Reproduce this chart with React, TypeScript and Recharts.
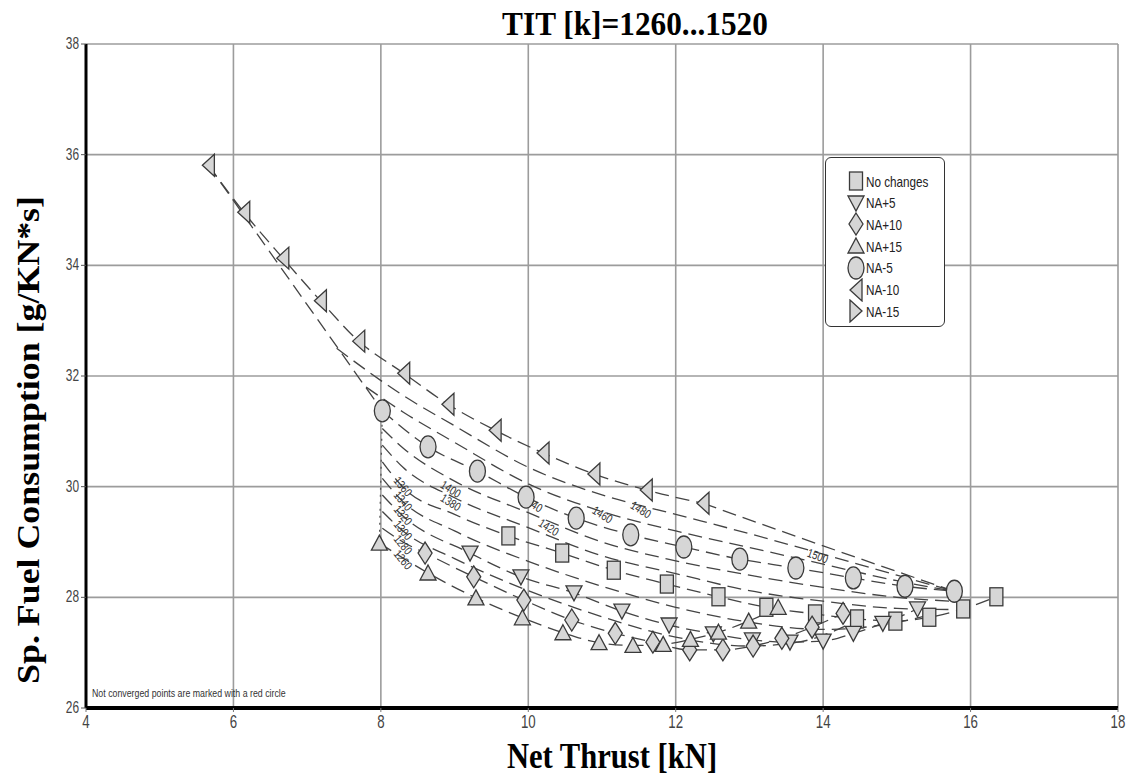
import React from 'react'
import { ScatterChart, Scatter, XAxis, YAxis, CartesianGrid } from 'recharts'

type Pt = [number, number]

const xTicks = [4, 6, 8, 10, 12, 14, 16, 18]
const yTicks = [26, 28, 30, 32, 34, 36, 38]

// markers: [thrust kN, SFC g/kN*s]
const naMinus10: Pt[] = [
  [5.66, 35.81], [6.14, 34.96], [6.67, 34.13], [7.18, 33.36], [7.70, 32.63], [8.31, 32.05],
  [8.91, 31.49], [9.55, 31.02], [10.20, 30.61], [10.89, 30.23], [11.60, 29.94], [12.37, 29.70],
]
const naMinus5: Pt[] = [
  [8.02, 31.37], [8.64, 30.72], [9.31, 30.28], [9.97, 29.81], [10.65, 29.43], [11.39, 29.13],
  [12.11, 28.91], [12.87, 28.69], [13.63, 28.53], [14.41, 28.35], [15.11, 28.20], [15.78, 28.11],
]
const noChanges: Pt[] = [
  [9.73, 29.11], [10.46, 28.80], [11.16, 28.49], [11.88, 28.24], [12.58, 28.01], [13.23, 27.82],
  [13.89, 27.70], [14.46, 27.61], [14.98, 27.57], [15.44, 27.64], [15.90, 27.79], [16.35, 28.01],
]
const naPlus5: Pt[] = [
  [9.21, 28.80], [9.90, 28.37], [10.62, 28.08], [11.27, 27.75], [11.91, 27.50], [12.51, 27.34],
  [13.04, 27.23], [13.55, 27.19], [14.00, 27.21], [14.41, 27.35], [14.81, 27.53], [15.28, 27.79],
]
const naPlus10: Pt[] = [
  [8.60, 28.80], [9.26, 28.37], [9.94, 27.95], [10.59, 27.59], [11.18, 27.35], [11.69, 27.19],
  [12.19, 27.05], [12.64, 27.05], [13.05, 27.12], [13.44, 27.26], [13.85, 27.46], [14.27, 27.71],
]
const naPlus15: Pt[] = [
  [7.98, 28.98], [8.64, 28.44], [9.29, 27.99], [9.92, 27.63], [10.47, 27.36], [10.96, 27.18],
  [11.42, 27.13], [11.83, 27.15], [12.20, 27.24], [12.58, 27.37], [12.99, 27.57], [13.39, 27.82],
]
const naMinus15: Pt[] = []

// dashed TIT curves (the ones without markers read point by point)
const boundaryLeft: Pt[] = [[5.66, 35.81], [8.02, 31.37]]
const boundaryMin: Pt[] = [[8.02, 31.37], [7.98, 28.98]]
const lineTop: Pt[] = [[12.37, 29.70], [14.0, 28.93], [15.78, 28.11]]
const lineB: Pt[] = [
  [7.4, 32.5], [8.3, 31.65], [9.0, 31.1], [10.0, 30.35], [11.0, 29.85], [12.0, 29.5],
  [13.0, 29.15], [14.0, 28.78], [15.0, 28.4], [15.78, 28.11],
]
const lineC: Pt[] = [
  [7.8, 31.8], [8.3, 31.35], [9.0, 30.8], [10.0, 30.05], [11.0, 29.55], [12.0, 29.2],
  [13.0, 28.9], [14.0, 28.6], [15.0, 28.3], [15.78, 28.11],
]
const lineE: Pt[] = [
  [8.02, 31.05], [8.3, 30.7], [9.0, 30.1], [10.0, 29.53], [11.0, 29.0], [12.0, 28.66],
  [13.0, 28.4], [14.0, 28.18], [15.0, 28.0], [15.9, 27.92],
]
const lineF: Pt[] = [
  [8.02, 30.75], [8.3, 30.35], [9.0, 29.8], [10.0, 29.26], [11.0, 28.75], [12.0, 28.43],
  [13.0, 28.12], [14.0, 27.93], [15.0, 27.8], [15.7, 27.78],
]
const lineH: Pt[] = [
  [8.02, 30.15], [8.3, 29.73], [9.0, 29.2], [10.0, 28.65], [11.0, 28.2], [12.0, 27.82],
  [13.0, 27.55], [14.0, 27.42], [14.8, 27.5], [15.5, 27.7],
]
const lineJ: Pt[] = [
  [8.02, 29.55], [8.3, 29.2], [9.0, 28.7], [10.0, 28.12], [11.0, 27.65], [12.0, 27.28],
  [13.0, 27.12], [13.7, 27.2], [14.3, 27.48],
]
const headNoChanges: Pt[] = [[8.02, 30.45], [8.3, 29.99], [9.0, 29.5]]
const headPlus5: Pt[] = [[8.02, 29.85], [8.3, 29.47]]
const headPlus10: Pt[] = [[8.02, 29.25], [8.3, 29.0]]

const curves: Pt[][] = [
  boundaryLeft, naMinus10, lineTop, lineB, lineC, naMinus5, lineE, lineF,
  [...headNoChanges, ...noChanges], lineH, [...headPlus5, ...naPlus5], lineJ,
  [...headPlus10, ...naPlus10], naPlus15,
]

const titLabels = [
  { x: 8.29, y: 29.99, text: '1360' }, { x: 8.29, y: 29.73, text: '1340' },
  { x: 8.29, y: 29.47, text: '1320' }, { x: 8.29, y: 29.2, text: '1300' },
  { x: 8.29, y: 28.94, text: '1280' }, { x: 8.29, y: 28.67, text: '1260' },
  { x: 8.94, y: 29.94, text: '1400' }, { x: 8.94, y: 29.7, text: '1380' },
  { x: 10.05, y: 29.68, text: '1440' }, { x: 10.27, y: 29.25, text: '1420' },
  { x: 11.0, y: 29.48, text: '1460' }, { x: 11.52, y: 29.57, text: '1480' },
  { x: 13.92, y: 28.73, text: '1500' },
]

const series = [
  { name: 'No changes', kind: 'square', pts: noChanges },
  { name: 'NA+5', kind: 'down', pts: naPlus5 },
  { name: 'NA+10', kind: 'diamond', pts: naPlus10 },
  { name: 'NA+15', kind: 'up', pts: naPlus15 },
  { name: 'NA-5', kind: 'circle', pts: naMinus5 },
  { name: 'NA-10', kind: 'left', pts: naMinus10 },
  { name: 'NA-15', kind: 'right', pts: naMinus15 },
]

const toXY = (pts: Pt[]) => pts.map(([x, y]) => ({ x, y }))

const narrow = "'Liberation Sans', Arial, sans-serif"
const serif = "'Liberation Serif', 'Times New Roman', serif"

function Marker({ kind, cx, cy }: { kind: string; cx: number; cy: number }) {
  const st = { fill: '#d6d6d6', stroke: '#3a3a3a', strokeWidth: 1.3 }
  switch (kind) {
    case 'square':
      return <rect x={cx - 6.5} y={cy - 9} width={13} height={18} {...st} />
    case 'down':
      return <polygon points={`${cx - 8},${cy - 7} ${cx + 8},${cy - 7} ${cx},${cy + 8}`} {...st} />
    case 'up':
      return <polygon points={`${cx},${cy - 8} ${cx + 8},${cy + 7} ${cx - 8},${cy + 7}`} {...st} />
    case 'diamond':
      return <polygon points={`${cx},${cy - 11} ${cx + 7},${cy} ${cx},${cy + 11} ${cx - 7},${cy}`} {...st} />
    case 'circle':
      return <ellipse cx={cx} cy={cy} rx={8} ry={11} {...st} />
    case 'left':
      return <polygon points={`${cx - 6},${cy} ${cx + 6},${cy - 11} ${cx + 6},${cy + 11}`} {...st} />
    default:
      return <polygon points={`${cx + 6},${cy} ${cx - 6},${cy - 11} ${cx - 6},${cy + 11}`} {...st} />
  }
}

const XTick = ({ x, y, payload }: any) => (
  <text transform={`translate(${x},${y + 14}) scale(0.7,1)`} textAnchor="middle" fontSize={19} fill="#444" fontFamily={narrow}>
    {payload.value}
  </text>
)

const YTick = ({ x, y, payload }: any) => (
  <text transform={`translate(${x},${y + 5}) scale(0.7,1)`} textAnchor="end" fontSize={17} fill="#444" fontFamily={narrow}>
    {payload.value}
  </text>
)

const labelAngle = (x: number) => (x < 8.5 ? 50 : x > 13 ? 20 : 32)

export default function App() {
  return (
    <div style={{ position: 'absolute', left: 0, top: 0, width: 1128, height: 781, background: '#fff', overflow: 'hidden' }}>
      <ScatterChart width={1128} height={781} margin={{ top: 44, right: 10, bottom: 43, left: 0 }}>
        <CartesianGrid stroke="#9c9c9c" strokeWidth={1.6} />
        <XAxis
          type="number"
          dataKey="x"
          domain={[4, 18]}
          ticks={xTicks}
          height={30}
          axisLine={{ stroke: '#000', strokeWidth: 4 }}
          tickLine={{ stroke: '#777' }}
          tickSize={4}
          tick={<XTick />}
        />
        <YAxis
          type="number"
          dataKey="y"
          domain={[26, 38]}
          ticks={yTicks}
          width={86}
          axisLine={{ stroke: '#000', strokeWidth: 3 }}
          tickLine={{ stroke: '#555' }}
          tickSize={5}
          tick={<YTick />}
        />
        {curves.map((c, i) => (
          <Scatter
            key={'c' + i}
            data={toXY(c)}
            line={{ stroke: '#444', strokeWidth: 1.3, strokeDasharray: '14 7' }}
            lineType="joint"
            lineJointType="monotoneX"
            shape={() => <g />}
            isAnimationActive={false}
          />
        ))}
        <Scatter
          data={toXY(boundaryMin)}
          line={{ stroke: '#555', strokeWidth: 1.3, strokeDasharray: '2 5' }}
          lineType="joint"
          lineJointType="linear"
          shape={() => <g />}
          isAnimationActive={false}
        />
        <Scatter
          data={titLabels}
          isAnimationActive={false}
          shape={(p: any) => (
            <text
              transform={`translate(${p.cx},${p.cy}) rotate(${labelAngle(p.payload.x)}) scale(0.8,1)`}
              textAnchor="middle"
              dominantBaseline="middle"
              fontSize={12}
              fill="#333"
              fontFamily={narrow}
            >
              {p.payload.text}
            </text>
          )}
        />
        {series.map((s) => (
          <Scatter
            key={s.name}
            name={s.name}
            data={toXY(s.pts)}
            isAnimationActive={false}
            shape={(p: any) => <Marker kind={s.kind} cx={p.cx} cy={p.cy} />}
          />
        ))}
      </ScatterChart>

      <div style={{ position: 'absolute', left: 435, top: 4, width: 400, textAlign: 'center', fontFamily: serif, fontWeight: 'bold', fontSize: 34, lineHeight: '40px', transform: 'scaleX(0.92)' }}>
        TIT [k]=1260...1520
      </div>
      <div style={{ position: 'absolute', left: 312, top: 735, width: 600, textAlign: 'center', fontFamily: serif, fontWeight: 'bold', fontSize: 36, lineHeight: '42px', transform: 'scaleX(0.85)' }}>
        Net Thrust [kN]
      </div>
      <div style={{ position: 'absolute', left: 28, top: 440, width: 0, height: 0 }}>
        <div style={{ position: 'absolute', left: -300, top: -20, width: 600, textAlign: 'center', fontFamily: serif, fontWeight: 'bold', fontSize: 32, lineHeight: '40px', whiteSpace: 'nowrap', transform: 'rotate(-90deg) scaleX(1.12)' }}>
          Sp. Fuel Consumption [g/KN*s]
        </div>
      </div>
      <div style={{ position: 'absolute', left: 92, top: 688, fontFamily: narrow, fontSize: 10, color: '#333', whiteSpace: 'nowrap', transform: 'scaleX(0.88)', transformOrigin: 'left' }}>
        Not converged points are marked with a red circle
      </div>

      <div style={{ position: 'absolute', left: 825, top: 157, width: 118, height: 168, border: '1.5px solid #333', borderRadius: 6, background: '#fff' }}>
        {series.map((s, i) => (
          <div key={s.name} style={{ position: 'absolute', left: 20, top: 12 + i * 21.7, height: 22, display: 'flex', alignItems: 'center' }}>
            <svg width={20} height={24} style={{ display: 'block' }}>
              <Marker kind={s.kind} cx={10} cy={12} />
            </svg>
            <span style={{ fontFamily: narrow, fontSize: 15, color: '#222', display: 'inline-block', transform: 'scaleX(0.78)', transformOrigin: 'left', whiteSpace: 'nowrap' }}>
              {s.name}
            </span>
          </div>
        ))}
      </div>
    </div>
  )
}
